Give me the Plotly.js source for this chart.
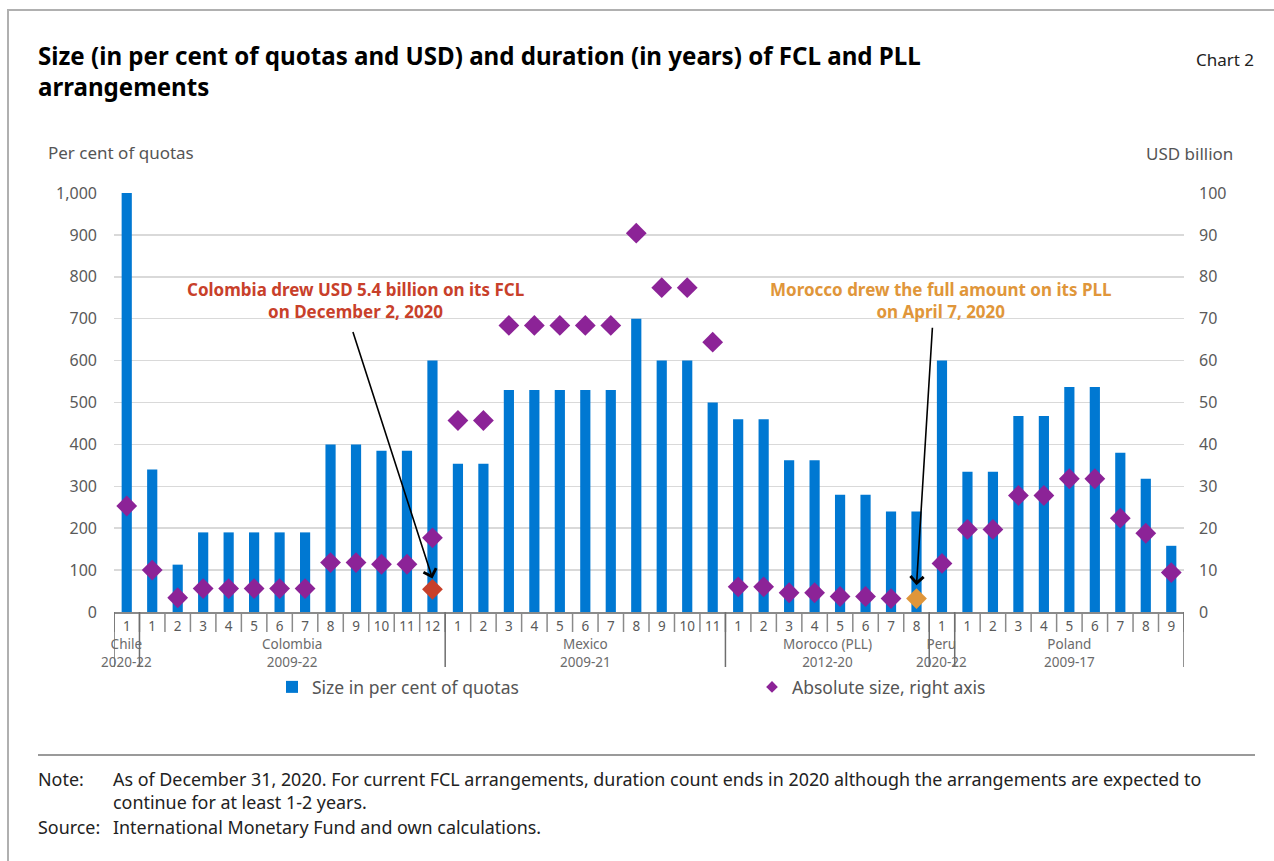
<!DOCTYPE html>
<html>
<head>
<meta charset="utf-8">
<script src="https://cdn.plot.ly/plotly-3.0.1.min.js"></script>
<style>
html,body{margin:0;padding:0;background:#fff;}
#chart{width:1274px;height:861px;}
</style>
</head>
<body>
<div id="chart"></div>
<script>
// ---- data ----
const groupNames = ['Chile<br>2020-22', 'Colombia<br>2009-22', 'Mexico<br>2009-21', 'Morocco (PLL)<br>2012-20', 'Peru<br>2020-22', 'Poland<br>2009-17'];
const groupSizes = [1, 12, 11, 8, 1, 9];
const tickLabels = ['1',
  '1','2','3','4','5','6','7','8','9','10','11','12',
  '1','2','3','4','5','6','7','8','9','10','11',
  '1','2','3','4','5','6','7','8',
  '1',
  '1','2','3','4','5','6','7','8','9'];
const sizePctQuota = [1000,
  340,113,190,190,190,190,190,400,400,385,385,600,
  354,354,530,530,530,530,530,700,600,600,500,
  460,460,362,362,280,280,240,240,
  600,
  335,335,468,468,537,537,380,318,158];
const absSizeUSD = [25.3,
  10.0,3.4,5.6,5.6,5.6,5.6,5.6,11.8,11.8,11.4,11.4,17.7,
  45.7,45.7,68.4,68.4,68.4,68.4,68.4,90.4,77.4,77.4,64.4,
  6.0,6.0,4.6,4.6,3.7,3.7,3.2,3.2,
  11.6,
  19.7,19.7,27.8,27.8,31.8,31.8,22.4,18.8,9.4];
const colombiaDrawIndex = 12;
const colombiaDrawUSD = [5.4];
const moroccoDrawIndex = 31;

// ---- styling ----
const BLUE = '#0078D2', PURPLE = '#8C2397', RED = '#C8402A', ORANGE = '#E0963A';
const FONT = 'Noto Sans, Open Sans, sans-serif';
const L = 114, R = 1184, T = 193, B = 612;
const W = R - L, H = B - T;
const X = p => (p - L) / W;   // pixel -> paper x
const Y = p => (B - p) / H;   // pixel -> paper y

const xs = sizePctQuota.map((_, i) => i);
const markerColors = absSizeUSD.map((_, i) => i === moroccoDrawIndex ? ORANGE : PURPLE);

const traces = [
  {type:'bar', x:xs, y:sizePctQuota, name:'Size in per cent of quotas',
   marker:{color:BLUE}, yaxis:'y', legend:'legend'},
  {type:'scatter', mode:'markers', x:[null], y:[null], name:'Absolute size, right axis',
   marker:{symbol:'diamond', color:PURPLE, size:9}, yaxis:'y2', legend:'legend2'},
  {type:'scatter', mode:'markers', x:xs, y:absSizeUSD, showlegend:false,
   marker:{symbol:'diamond', color:markerColors, size:16}, yaxis:'y2'},
  {type:'scatter', mode:'markers', x:[colombiaDrawIndex], y:colombiaDrawUSD, showlegend:false,
   marker:{symbol:'diamond', color:RED, size:16}, yaxis:'y2'}
];

const shapes = [];
const annotations = [];
// category separators
for (let i = 0; i <= xs.length; i++) {
  shapes.push({type:'line', xref:'x', yref:'paper', x0:i-0.5, x1:i-0.5, y0:0, y1:Y(632),
    line:{color:'#8a8a8a', width:1.5}});
}
// group separators & labels
let start = 0;
const bounds = [-0.5];
groupSizes.forEach((n, g) => {
  const center = start + (n - 1) / 2;
  annotations.push({xref:'x', yref:'paper', x:center, y:Y(652.5), text:groupNames[g],
    showarrow:false, xanchor:'center', yanchor:'middle',
    font:{family:FONT, size:13.5, color:'#6b6b6b'}, align:'center'});
  start += n;
  bounds.push(start - 0.5);
});
bounds.forEach(b => shapes.push({type:'line', xref:'x', yref:'paper', x0:b, x1:b, y0:0, y1:Y(667),
  line:{color:'#6e6e6e', width:1.5}}));

// frame and separator
shapes.push(
  {type:'line', xref:'paper', yref:'paper', x0:X(8), x1:X(8), y0:Y(861), y1:Y(10), line:{color:'#b0b0b0', width:2}},
  {type:'line', xref:'paper', yref:'paper', x0:X(7), x1:X(1274), y0:Y(10), y1:Y(10), line:{color:'#b0b0b0', width:2}},
  {type:'line', xref:'paper', yref:'paper', x0:X(38), x1:X(1255), y0:Y(755), y1:Y(755), line:{color:'#9a9a9a', width:2}}
);

// arrows and callouts
annotations.push(
  {xref:'x', yref:'y2', x:colombiaDrawIndex, y:8, ax:-80, ay:-248, showarrow:true,
   arrowhead:4, arrowsize:1.6, arrowwidth:1.6, arrowcolor:'#000', text:''},
  {xref:'x', yref:'y2', x:moroccoDrawIndex, y:6.4, ax:16, ay:-259, showarrow:true,
   arrowhead:4, arrowsize:1.6, arrowwidth:1.6, arrowcolor:'#000', text:''},
  {xref:'paper', yref:'paper', x:X(355), y:Y(300), text:'Colombia drew USD 5.4 billion on its FCL<br>on December 2, 2020',
   showarrow:false, font:{family:FONT, size:17, color:RED, weight:'bold'}, align:'center', xanchor:'center', yanchor:'middle'},
  {xref:'paper', yref:'paper', x:X(940), y:Y(300), text:'Morocco drew the full amount on its PLL<br>on April 7, 2020',
   showarrow:false, font:{family:FONT, size:17, color:ORANGE, weight:'bold'}, align:'center', xanchor:'center', yanchor:'middle'},
  // titles and notes
  {xref:'paper', yref:'paper', x:X(36), y:Y(71), xanchor:'left', yanchor:'middle', align:'left', showarrow:false,
   text:'Size (in per cent of quotas and USD) and duration (in years) of FCL and PLL<br>arrangements',
   font:{family:FONT, size:24.1, color:'#000', weight:'bold'}},
  {xref:'paper', yref:'paper', x:X(1256), y:Y(60), xanchor:'right', yanchor:'middle', showarrow:false,
   text:'Chart 2', font:{family:FONT, size:17, color:'#222'}},
  {xref:'paper', yref:'paper', x:X(46), y:Y(152), xanchor:'left', yanchor:'middle', showarrow:false,
   text:'Per cent of quotas', font:{family:FONT, size:17, color:'#555'}},
  {xref:'paper', yref:'paper', x:X(1235), y:Y(154), xanchor:'right', yanchor:'middle', showarrow:false,
   text:'USD billion', font:{family:FONT, size:17, color:'#555'}},
  {xref:'paper', yref:'paper', x:X(36), y:Y(779), xanchor:'left', yanchor:'middle', showarrow:false,
   text:'Note:', font:{family:FONT, size:17.9, color:'#222'}},
  {xref:'paper', yref:'paper', x:X(111), y:Y(790.5), xanchor:'left', yanchor:'middle', align:'left', showarrow:false,
   text:'As of December 31, 2020. For current FCL arrangements, duration count ends in 2020 although the arrangements are expected to<br>continue for at least 1-2 years.',
   font:{family:FONT, size:17.9, color:'#222'}},
  {xref:'paper', yref:'paper', x:X(36), y:Y(827), xanchor:'left', yanchor:'middle', showarrow:false,
   text:'Source:', font:{family:FONT, size:17.9, color:'#222'}},
  {xref:'paper', yref:'paper', x:X(111), y:Y(827), xanchor:'left', yanchor:'middle', showarrow:false,
   text:'International Monetary Fund and own calculations.', font:{family:FONT, size:17.9, color:'#222'}}
);

const legendFont = {family:FONT, size:17.5, color:'#555'};
const layout = {
  width:1274, height:861,
  margin:{l:L, r:1274-R, t:T, b:861-B},
  paper_bgcolor:'#fff', plot_bgcolor:'#fff',
  font:{family:FONT, color:'#555'},
  showlegend:true,
  bargap:0.6,
  xaxis:{range:[-0.5, xs.length-0.5], tickvals:xs, ticktext:tickLabels, ticks:'',
    showgrid:false, zeroline:false, showline:true, linecolor:'#8a8a8a', linewidth:1.5,
    tickfont:{family:FONT, size:13.5, color:'#5a5a5a'}, ticklabelstandoff:1},
  yaxis:{range:[0,1000], dtick:100, tickformat:',', showgrid:true, gridcolor:'#d9d9d9', gridwidth:1.5,
    zeroline:false, showline:false, ticks:'', ticklabelstandoff:16,
    tickfont:{family:FONT, size:16, color:'#5a5a5a'}},
  yaxis2:{range:[0,100], dtick:10, overlaying:'y', side:'right', showgrid:false, zeroline:false,
    showline:false, ticks:'', ticklabelstandoff:14,
    tickfont:{family:FONT, size:16, color:'#5a5a5a'}},
  legend:{x:X(272), y:Y(687), xanchor:'left', yanchor:'middle', font:legendFont,
    bgcolor:'rgba(0,0,0,0)', borderwidth:0},
  legend2:{x:X(752), y:Y(687), xanchor:'left', yanchor:'middle', font:legendFont,
    bgcolor:'rgba(0,0,0,0)', borderwidth:0},
  shapes: shapes,
  annotations: annotations
};

Plotly.newPlot('chart', traces, layout, {staticPlot:true, displayModeBar:false});
</script>
</body>
</html>
